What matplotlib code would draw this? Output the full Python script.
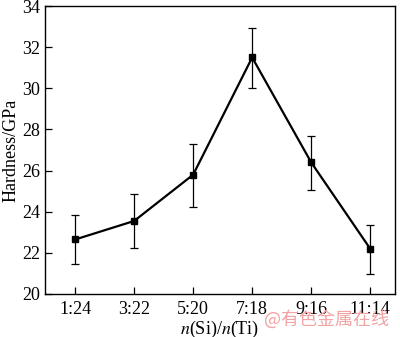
import matplotlib
matplotlib.use("Agg")
import matplotlib.pyplot as plt

categories = ["1:24", "3:22", "5:20", "7:18", "9:16", "11:14"]
hardness = [22.65, 23.55, 25.8, 31.5, 26.4, 22.2]
err_upper = [1.2, 1.3, 1.5, 1.45, 1.3, 1.15]
err_lower = [1.2, 1.3, 1.55, 1.5, 1.35, 1.25]
yticks = [20, 22, 24, 26, 28, 30, 32, 34]

plt.rcParams['font.family'] = ['Liberation Serif', 'DejaVu Serif']
plt.rcParams['mathtext.fontset'] = 'stix'
fig = plt.figure(figsize=(4.0, 3.37), dpi=100)
ax = fig.add_axes([0.1125, 0.1276, 0.875, 0.8544])
x = list(range(len(categories)))
ax.errorbar(x, hardness, yerr=[err_lower, err_upper], color='black', lw=1.6,
            marker='s', markersize=4.5, ecolor='black', elinewidth=0.9,
            capsize=3, capthick=0.9)
ax.set_xlim(-0.51, 5.42)
ax.set_ylim(20, 34)
ax.set_yticks(yticks)
ax.set_xticks(x)
ax.set_xticklabels(categories)
ax.tick_params(direction='in', length=5, width=0.9, labelsize=13, top=False, right=False)
ax.tick_params(axis='x', pad=5)
for s in ax.spines.values():
    s.set_linewidth(1.0)
ax.set_ylabel('Hardness/GPa', fontsize=13, labelpad=2)
ax.set_xlabel(r'$n$(Si)/$n$(Ti)', fontsize=13, labelpad=1)
fig.text(0.66, 0.035, '@有色金属在线', fontsize=13, color='#f2a3a3',
         family=['Noto Sans CJK SC', 'DejaVu Sans'])
fig.savefig('out.png', dpi=100)
